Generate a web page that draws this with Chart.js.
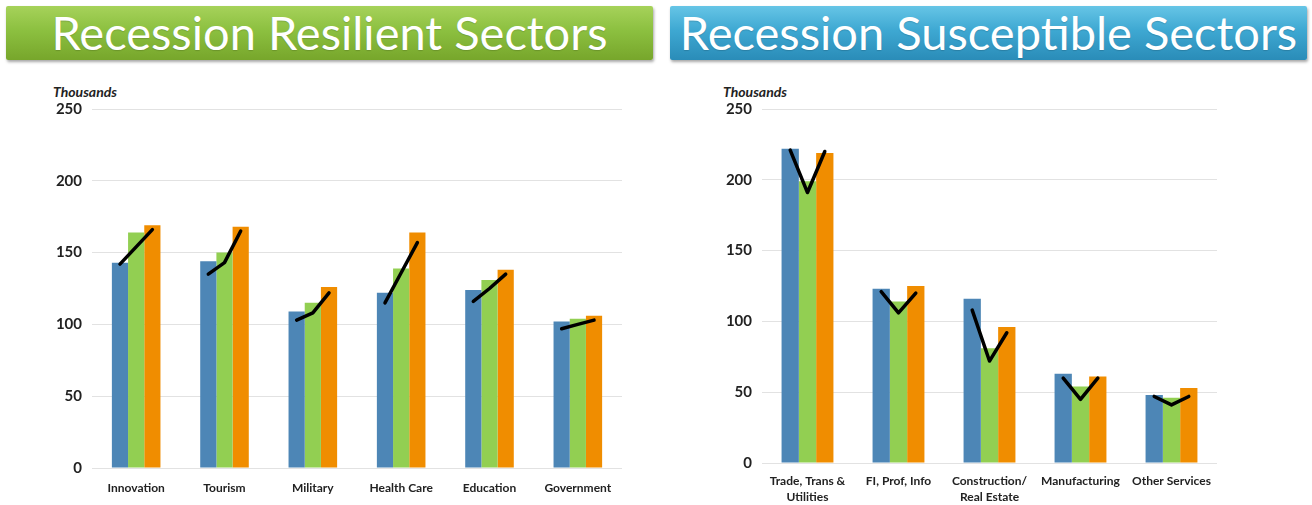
<!DOCTYPE html>
<html>
<head>
<meta charset="utf-8">
<script src="https://cdn.jsdelivr.net/npm/chart.js@4"></script>
<style>
  body { margin: 0; background: #fff; width: 1312px; height: 505px; overflow: hidden; position: relative; font-family: Lato, sans-serif; }
  .banner { position: absolute; top: 6px; height: 54px; line-height: 52px; color: #fff; text-align: center;
            font-size: 47px; white-space: nowrap; border-radius: 2px;
            box-shadow: 1px 2px 3px rgba(0,0,0,0.35); text-shadow: 0 1px 1px rgba(0,0,0,0.15); }
  .green { left: 6px; width: 647px; background: linear-gradient(#a6d25a, #8cc040 45%, #77a62b); }
  .blue { left: 670px; width: 637px; background: linear-gradient(#66c5e6, #3ea8d2 45%, #2a8cb8); }
  .unit { position: absolute; top: 83px; font: italic bold 14px Lato, sans-serif; color: #222; }
  canvas { position: absolute; top: 70px; }
</style>
</head>
<body>
<div class="banner green">Recession Resilient Sectors</div>
<div class="banner blue">Recession Susceptible Sectors</div>
<div class="unit" style="left:53px">Thousands</div>
<div class="unit" style="left:723px">Thousands</div>
<canvas id="resilientChart" width="656" height="435" style="left:0"></canvas>
<canvas id="susceptibleChart" width="656" height="435" style="left:656px"></canvas>
<script>
// y axis ticks (thousands)
const yTicks = [0, 50, 100, 150, 200, 250];

// Recession resilient sectors
const resilientLabels = ['Innovation', 'Tourism', 'Military', 'Health Care', 'Education', 'Government'];
const resilientBlue = [143, 144, 109, 122, 124, 102];
const resilientGreen = [164, 150, 115, 139, 131, 104];
const resilientOrange = [169, 168, 126, 164, 138, 106];
const resilientLineStart = [142, 135, 103, 115, 116, 97];
const resilientLineMid = [154, 143, 108, 136, 125, 100];
const resilientLineEnd = [166, 165, 122, 157, 135, 103];

// Recession susceptible sectors
const susceptibleLabels = [['Trade, Trans &', 'Utilities'], 'FI, Prof, Info', ['Construction/', 'Real Estate'], 'Manufacturing', 'Other Services'];
const susceptibleBlue = [222, 123, 116, 63, 48];
const susceptibleGreen = [199, 114, 81, 54, 46];
const susceptibleOrange = [219, 125, 96, 61, 53];
const susceptibleLineStart = [221, 121, 108, 60, 47];
const susceptibleLineMid = [191, 106, 72, 45, 41];
const susceptibleLineEnd = [220, 120, 92, 60, 47];

const BLUE = '#4d86b6';
const GREEN = '#92cf52';
const ORANGE = '#f08d00';

// line points sit on the bar centres, one break between categories
function linePoints(start, mid, end, groupWidth) {
  const step = groupWidth / 3;
  const pts = [];
  start.forEach((v, i) => {
    pts.push({ x: i - step, y: v });
    pts.push({ x: i, y: mid[i] });
    pts.push({ x: i + step, y: end[i] });
    pts.push({ x: i + 0.5, y: null });
  });
  return pts;
}

function makeChart(id, labels, blue, green, orange, lineStart, lineMid, lineEnd, opts) {
  // bars and line share one linear x scale, category i sits at x = i
  const bar = (values, color) => ({
    type: 'bar', data: values.map((v, i) => ({ x: i, y: v })), backgroundColor: color, order: 1,
    categoryPercentage: opts.group, barPercentage: 1
  });
  new Chart(document.getElementById(id), {
    data: {
      datasets: [
        {
          type: 'line', order: 0,
          data: linePoints(lineStart, lineMid, lineEnd, opts.group),
          borderColor: '#000', borderWidth: 3.5, borderCapStyle: 'round', borderJoinStyle: 'round',
          pointRadius: 0, spanGaps: false, tension: 0
        },
        bar(blue, BLUE),
        bar(green, GREEN),
        bar(orange, ORANGE)
      ]
    },
    options: {
      responsive: false,
      animation: false,
      layout: { padding: opts.padding },
      plugins: { legend: { display: false }, tooltip: { enabled: false } },
      scales: {
        x: {
          type: 'linear', offset: false,
          min: -0.5, max: labels.length - 0.5,
          afterBuildTicks: s => { s.ticks = labels.map((l, i) => ({ value: i })); },
          grid: { display: false, drawTicks: false },
          border: { display: false },
          ticks: { color: '#222', padding: opts.xPad, maxRotation: 0, autoSkip: false,
                   callback: v => labels[v],
                   font: { family: 'Lato', weight: 'bold', size: 12, lineHeight: 1.35 } },
          afterFit: s => { s.height = opts.xHeight; }
        },
        y: {
          min: yTicks[0], max: yTicks[yTicks.length - 1],
          afterBuildTicks: s => { s.ticks = yTicks.map(v => ({ value: v })); },
          grid: { color: '#e2e2e2', drawTicks: false },
          border: { display: false },
          ticks: { color: '#222', padding: 10, font: { family: 'Lato', weight: 'bold', size: 15 } },
          afterFit: s => { s.width = 52; }
        }
      }
    }
  });
}

makeChart('resilientChart', resilientLabels, resilientBlue, resilientGreen, resilientOrange,
  resilientLineStart, resilientLineMid, resilientLineEnd,
  { group: 0.55, padding: { left: 40, right: 34, top: 39, bottom: 0 }, xHeight: 37, xPad: 12 });

makeChart('susceptibleChart', susceptibleLabels, susceptibleBlue, susceptibleGreen, susceptibleOrange,
  susceptibleLineStart, susceptibleLineMid, susceptibleLineEnd,
  { group: 0.57, padding: { left: 54, right: 95, top: 39, bottom: 0 }, xHeight: 42, xPad: 10 });
</script>
</body>
</html>
